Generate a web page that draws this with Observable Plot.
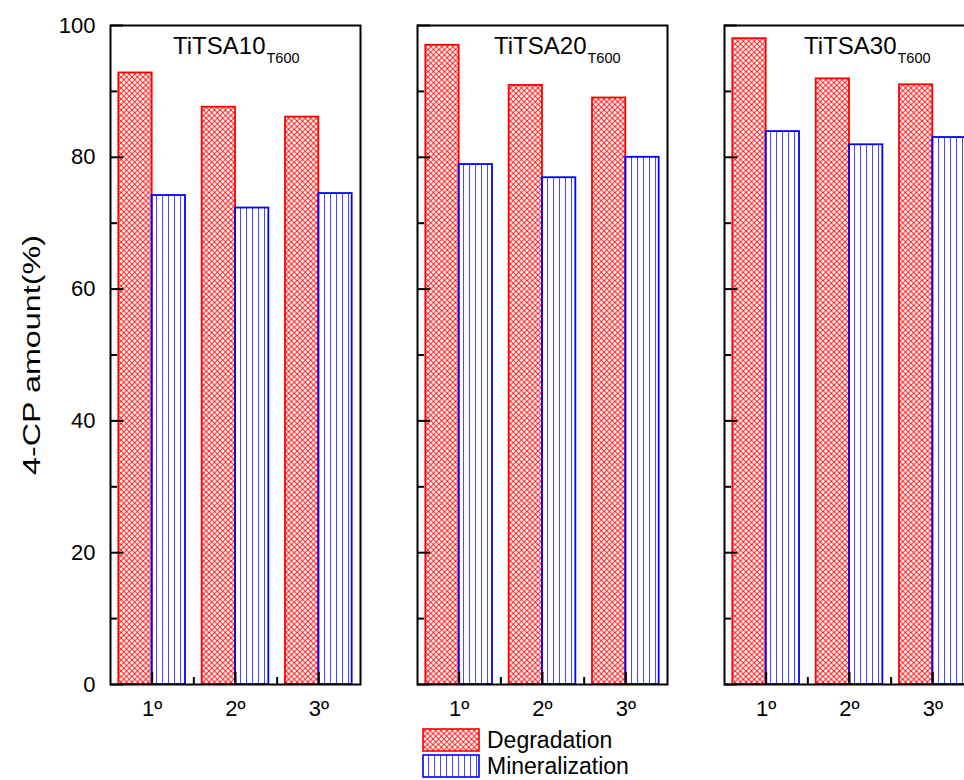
<!DOCTYPE html>
<html><head><meta charset="utf-8">
<script src="https://cdn.jsdelivr.net/npm/d3@7"></script>
<script src="https://cdn.jsdelivr.net/npm/@observablehq/plot@0.6"></script>
<style>
html,body{margin:0;padding:0;overflow:hidden;background:#fff;}
#chart{position:relative;width:964px;height:780px;overflow:hidden;}
.legend{position:absolute;left:422px;top:727px;font-family:"Liberation Sans",Arial,sans-serif;font-size:23px;color:#000;}
.legend .row{display:flex;align-items:center;height:26px;}
.legend svg{margin-right:7px;display:block;}
</style></head><body>
<svg width="0" height="0" style="position:absolute;left:0;top:0">
<defs>
<pattern id="crosshatch" patternUnits="userSpaceOnUse" width="5.5" height="5.5">
 <path d="M0,0L5.5,5.5M5.5,0L0,5.5" stroke="#ff1a1a" stroke-width="1.05" fill="none"/>
</pattern>
<pattern id="vlines" patternUnits="userSpaceOnUse" width="6" height="6">
 <path d="M0.5,0V6" stroke="#4a4aff" stroke-width="1.1" fill="none"/>
</pattern>
</defs></svg>
<div id="chart"></div>
<script>
// ---- data ----
const panels = ["TiTSA10", "TiTSA20", "TiTSA30"];
const panelSub = "T600";
const cycles = ["1º", "2º", "3º"];
const series = ["Degradation", "Mineralization"];
const degradation10 = [92.8, 87.6, 86.1];
const mineralization10 = [74.2, 72.3, 74.5];
const degradation20 = [97.0, 90.9, 89.0];
const mineralization20 = [78.9, 76.9, 80.0];
const degradation30 = [98.0, 91.9, 91.0];
const mineralization30 = [83.9, 81.9, 83.0];
const yTicks = [0, 20, 40, 60, 80, 100];
const yMinor = [10, 30, 50, 70, 90];
const xTicks = [1, 2, 3];
const xMinor = [1.5, 2.5];
const yLabel = "4-CP amount(%)";

// ---- table ----
const valuesByPanel = [
  [degradation10, mineralization10],
  [degradation20, mineralization20],
  [degradation30, mineralization30]
];
const barW = 0.4;
const table = [];
panels.forEach((p, pi) => cycles.forEach((c, ci) => series.forEach((s, si) => {
  table.push({panel: p, cycle: c, pos: ci + 1, series: s, si, value: valuesByPanel[pi][si][ci]});
})));
const degData = table.filter(d => d.si === 0);
const minData = table.filter(d => d.si === 1);

// ---- layout ----
const W = 975, H = 720, ML = 110, MR = 1, MT = 25, MB = 36;
const padInner = 0.186;
const bandW = (W - ML - MR) / (panels.length - padInner) * (1 - padInner);
const innerH = H - MT - MB;
const titleShift = [0, 14, 17];
const font = "'Liberation Sans', Arial, Helvetica, sans-serif";

const titleMarks = panels.flatMap((p, k) => [
  Plot.text([p], {fx: d => d, frameAnchor: "top", text: d => d, textAnchor: "end",
    lineAnchor: "top", dx: titleShift[k] + 30, dy: 11.5, fontSize: 24, fill: "black"}),
  Plot.text([p], {fx: d => d, frameAnchor: "top", text: () => panelSub, textAnchor: "start",
    lineAnchor: "top", dx: titleShift[k] + 31, dy: 27.5, fontSize: 14.5, fill: "black"})
]);

const chart = Plot.plot({
  width: W, height: H,
  marginLeft: ML, marginRight: MR, marginTop: MT, marginBottom: MB,
  style: {fontFamily: font, color: "black", background: "white", maxWidth: "none", overflow: "visible"},
  fx: {domain: panels, paddingInner: padInner, paddingOuter: 0, axis: null, label: null},
  x: {domain: [0.5, 3.5]},
  y: {domain: [0, 100]},
  marks: [
    Plot.rect(degData, {fx: "panel", x1: d => d.pos - barW, x2: d => d.pos, y1: 0, y2: "value",
      fill: "url(#crosshatch)", stroke: "#ff0000", strokeWidth: 1.8}),
    Plot.rect(minData, {fx: "panel", x1: d => d.pos, x2: d => d.pos + barW, y1: 0, y2: "value",
      fill: "url(#vlines)", stroke: "#0000ff", strokeWidth: 1.8}),
    Plot.tickY(yTicks, {y: d => d, stroke: "black", strokeWidth: 2, insetRight: bandW - 13}),
    Plot.tickY(yMinor, {y: d => d, stroke: "black", strokeWidth: 2, insetRight: bandW - 7}),
    Plot.tickX(xTicks, {x: d => d, stroke: "black", strokeWidth: 2, insetTop: innerH - 12}),
    Plot.tickX(xMinor, {x: d => d, stroke: "black", strokeWidth: 2, insetTop: innerH - 7}),
    Plot.frame({stroke: "black", strokeWidth: 2}),
    Plot.axisY(yTicks, {tickSize: 0, tickPadding: 15, fontSize: 22, label: yLabel,
      labelAnchor: "center", labelArrow: "none", labelOffset: 87}),
    Plot.axisX(xTicks, {tickSize: 0, tickPadding: 16, fontSize: 22, tickFormat: d => cycles[d - 1], label: null}),
    ...titleMarks
  ]
});
chart.style.maxWidth = "none";
document.getElementById("chart").appendChild(chart);

// stretch y-axis label like the reference
chart.querySelectorAll("text").forEach(t => {
  if (t.textContent.includes("4-CP")) {
    t.textContent = yLabel;
    t.setAttribute("font-size", "23");
    t.setAttribute("textLength", "240");
    t.setAttribute("lengthAdjust", "spacingAndGlyphs");
  }
});

// ---- legend ----
const legend = document.createElement("div");
legend.className = "legend";
const swatch = [
  {fill: "url(#crosshatch)", stroke: "#ff0000"},
  {fill: "url(#vlines)", stroke: "#0000ff"}
];
series.forEach((s, i) => {
  const row = document.createElement("div");
  row.className = "row";
  const sv = d3.create("svg").attr("width", 58).attr("height", 24);
  sv.append("rect").attr("x", 1).attr("y", 1).attr("width", 56).attr("height", 22)
    .attr("fill", swatch[i].fill).attr("stroke", swatch[i].stroke).attr("stroke-width", 1.6);
  row.appendChild(sv.node());
  const span = document.createElement("span");
  span.textContent = s;
  row.appendChild(span);
  legend.appendChild(row);
});
document.getElementById("chart").appendChild(legend);
</script>
</body></html>
